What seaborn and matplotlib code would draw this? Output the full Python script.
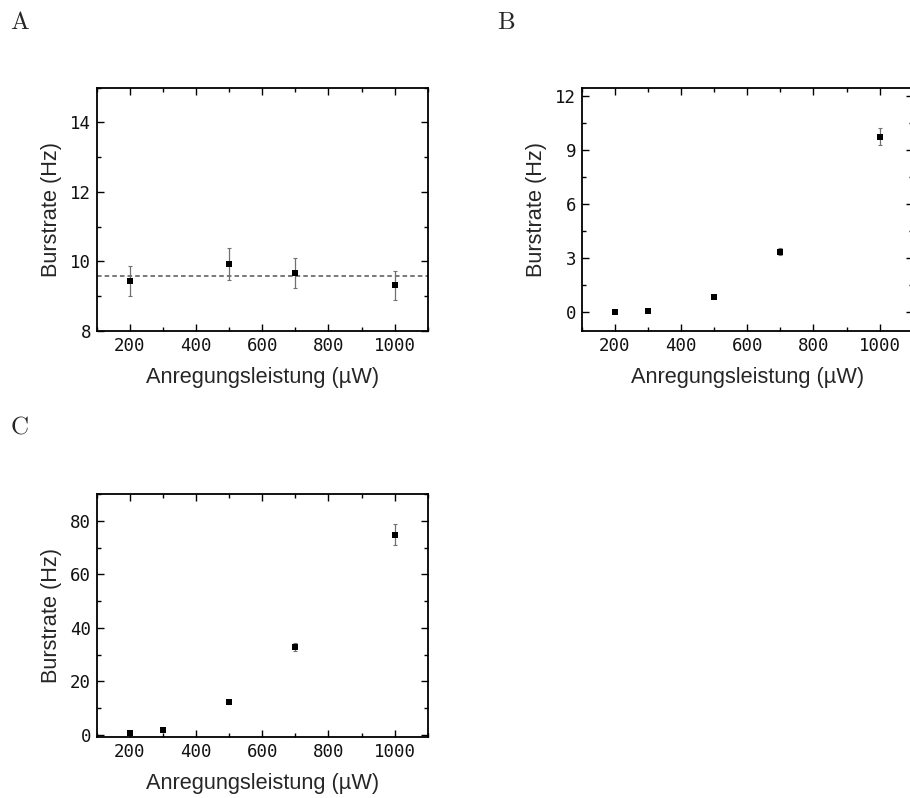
import numpy as np
import pandas as pd
import seaborn as sns
import matplotlib
matplotlib.use("Agg")
import matplotlib.pyplot as plt
from matplotlib.ticker import MultipleLocator

# ---- data ----
power_a = [200, 500, 700, 1000]
rate_a = [9.43, 9.93, 9.66, 9.32]
err_a = [0.43, 0.45, 0.43, 0.42]
mean_a = 9.59

power_b = [200, 300, 500, 700, 1000]
rate_b = [0.02, 0.07, 0.88, 3.36, 9.72]
err_b = [0.05, 0.05, 0.08, 0.2, 0.48]

power_c = [200, 300, 500, 700, 1000]
rate_c = [0.75, 1.8, 12.1, 32.7, 74.9]
err_c = [0.3, 0.4, 0.6, 1.5, 3.9]

xlabel = "Anregungsleistung (µW)"
ylabel = "Burstrate (Hz)"

sns.set_theme(style="white")
plt.rcParams["font.family"] = ["Liberation Sans", "DejaVu Sans"]
plt.rcParams["mathtext.fontset"] = "cm"

W, H = 910, 798
fig = plt.figure(figsize=(W / 100, H / 100), dpi=100)

def make_ax(left, top, right, bottom):
    return fig.add_axes([left / W, 1 - bottom / H, (right - left) / W, (bottom - top) / H])

def style(ax, ylim, ymaj, ymin):
    ax.set_xlim(100, 1100)
    ax.set_ylim(*ylim)
    ax.xaxis.set_major_locator(MultipleLocator(200))
    ax.xaxis.set_minor_locator(MultipleLocator(100))
    ax.yaxis.set_major_locator(MultipleLocator(ymaj))
    ax.yaxis.set_minor_locator(MultipleLocator(ymin))
    ax.tick_params(which="both", direction="in", top=True, right=True,
                   bottom=True, left=True, color="black", width=1.0)
    ax.tick_params(which="major", length=5, labelsize=12.5, pad=4)
    ax.tick_params(which="minor", length=3)
    for s in ax.spines.values():
        s.set_color("black")
        s.set_linewidth(1.3)
        s.set_visible(True)
    ax.set_xlabel(xlabel, fontsize=15.7, labelpad=9)
    ax.set_ylabel(ylabel, fontsize=15.7, labelpad=6)
    ax.grid(False)
    for lab in ax.get_xticklabels() + ax.get_yticklabels():
        lab.set_fontfamily("DejaVu Sans Mono")
        lab.set_color("#111111")

def draw(ax, x, y, e):
    df = pd.DataFrame({"x": x, "y": y})
    ax.errorbar(x, y, yerr=e, fmt="none", ecolor="#707070", elinewidth=0.9,
                capsize=1.3, capthick=0.8, zorder=2)
    sns.scatterplot(data=df, x="x", y="y", marker="s", s=22, color="black",
                    edgecolor="black", linewidth=0, ax=ax, zorder=3)

axA = make_ax(96.7, 87.7, 427.7, 331)
draw(axA, power_a, rate_a, err_a)
axA.axhline(mean_a, color="#555555", lw=1.1, ls=(0, (3, 2)), zorder=1)
style(axA, (8, 15), 2, 1)

axB = make_ax(581.7, 87.7, 912.7, 331)
draw(axB, power_b, rate_b, err_b)
style(axB, (-1.03, 12.44), 3, 1.5)

axC = make_ax(96.7, 494.3, 427.7, 737.3)
draw(axC, power_c, rate_c, err_c)
style(axC, (-1, 90), 20, 10)

fig.text(10 / W, 1 - 29 / H, r"$\mathrm{A}$", fontsize=18, ha="left", va="baseline")
fig.text(497 / W, 1 - 29 / H, r"$\mathrm{B}$", fontsize=18, ha="left", va="baseline")
fig.text(10 / W, 1 - 434 / H, r"$\mathrm{C}$", fontsize=18, ha="left", va="baseline")

fig.savefig("out.png", dpi=100, facecolor="white")
